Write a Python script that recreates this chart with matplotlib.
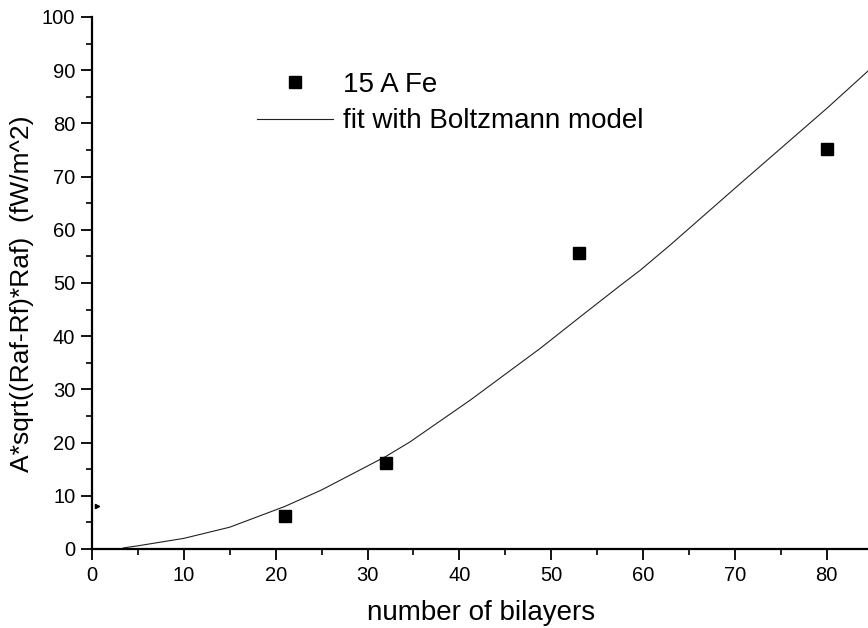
import numpy as np
import matplotlib.pyplot as plt
from matplotlib.ticker import MultipleLocator

plt.rcParams['font.family'] = ['Liberation Sans', 'DejaVu Sans']

# =========================
# Dados
# =========================
bilayers = [21, 32, 53, 80]
signal = [6.2, 16.1, 55.7, 75.1]

fit_x = [3.4, 5, 10, 15, 21, 25, 32, 34.6, 41.2, 48.8, 53.2, 57.5, 59.7, 63, 70.6, 76, 80, 84.6]
fit_y = [0.2, 0.6, 2.0, 4.1, 8.0, 11.1, 17.4, 20.1, 28.0, 37.7, 43.7, 49.5, 52.4, 57.2, 68.7, 76.8, 82.8, 90.0]

stray_x = [0.5]
stray_y = [8.0]

# =========================
# Plot
# =========================
fig = plt.figure(figsize=(8.68, 6.28), dpi=100)
ax = fig.add_axes([92 / 868, 1 - 549 / 628, 1 - 92 / 868, (549 - 17) / 628])

ax.plot(fit_x, fit_y, color="#222222", linewidth=0.8,
        label="fit with Boltzmann model", zorder=2)
ax.plot(bilayers, signal, linestyle="none", marker="s", markersize=8.4,
        color="black", label="15 A Fe", zorder=3)
ax.plot(stray_x, stray_y, linestyle="none", marker=">", markersize=3,
        color="black", zorder=3)

ax.set_xlim(0, 84.5)
ax.set_ylim(0, 100)

ax.xaxis.set_major_locator(MultipleLocator(10))
ax.xaxis.set_minor_locator(MultipleLocator(5))
ax.yaxis.set_major_locator(MultipleLocator(10))
ax.yaxis.set_minor_locator(MultipleLocator(5))

ax.tick_params(which="major", direction="out", length=8, width=1.3,
               labelsize=14.5, pad=4)
ax.tick_params(which="minor", direction="out", length=4.5, width=1.2)

ax.spines["top"].set_visible(False)
ax.spines["right"].set_visible(False)
ax.spines["left"].set_linewidth(1.6)
ax.spines["bottom"].set_linewidth(1.6)

fig.text(481 / 868, 1 - 620 / 628, "number of bilayers", fontsize=20,
         ha="center", va="baseline")
fig.text(22 / 868, 1 - 294 / 628, "A*sqrt((Raf-Rf)*Raf)  (fW/m^2)",
         fontsize=19, rotation=90, ha="center", va="center")

handles, labels = ax.get_legend_handles_labels()
ax.legend(handles[::-1], labels[::-1], loc="upper left",
          bbox_to_anchor=(257 / 868, 1 - 72 / 628),
          bbox_transform=fig.transFigure,
          frameon=False, fontsize=20, handlelength=2.75,
          handletextpad=0.35, labelspacing=0.37, borderpad=0,
          borderaxespad=0)

fig.savefig("out.png", dpi=100)
